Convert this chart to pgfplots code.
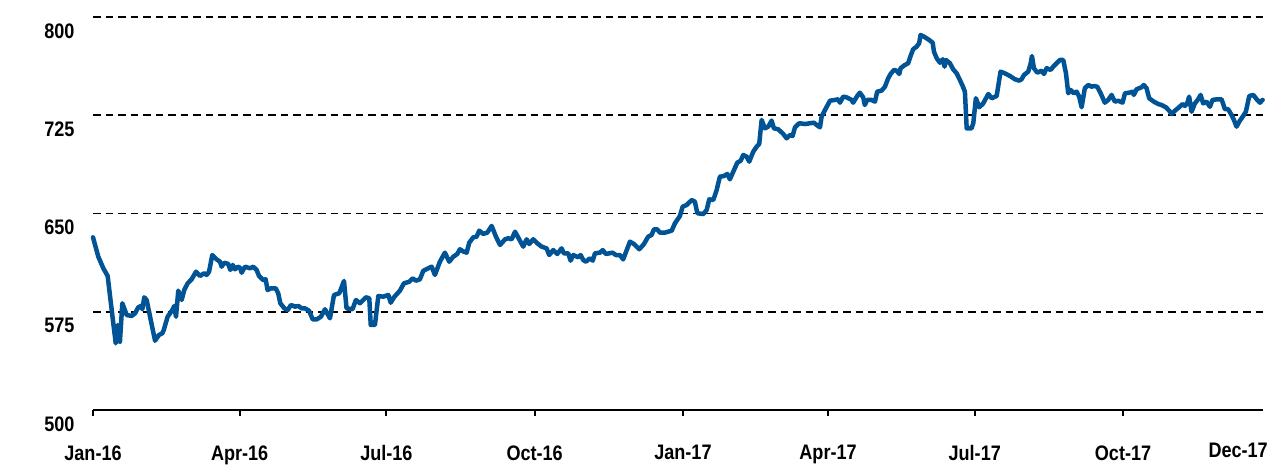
\documentclass[border=0pt]{standalone}
\usepackage{pgfplots}
\pgfplotsset{compat=1.18}
\usepackage{fontspec}
\setmainfont{Liberation Sans}[FakeStretch=0.86]
\definecolor{lineblue}{RGB}{0,83,148}
\begin{document}
\begin{tikzpicture}
\useasboundingbox (0,0) rectangle (1273pt,466pt);
\begin{axis}[
  at={(93pt,56pt)}, anchor=south west,
  scale only axis, width=1170pt, height=393pt,
  xmin=0, xmax=725.8, ymin=500, ymax=800,
  axis x line*=bottom, axis y line*=left,
  y axis line style={draw=none},
  x axis line style={line width=2.8pt},
  xtick={0,91,182,274,366,456,547,639},
  xticklabels={Jan-16,Apr-16,Jul-16,Oct-16,Jan-17,Apr-17,Jul-17,Oct-17},
  ytick={500,575,650,725,800},
  yticklabels={500,575,650,725,800},
  xtick align=outside,
  major tick length=6pt,
  x tick style={line width=1.8pt, black},
  y tick style={draw=none},
  ymajorgrids,
  major grid style={black, line width=1.8pt, dash pattern=on 7.5pt off 5pt},
  tick label style={font=\bfseries\fontsize{21pt}{23pt}\selectfont, black},
  /pgf/number format/assume math mode=true,
  xticklabel style={yshift=-26pt},
  yticklabel style={xshift=-15pt, yshift=-14pt},
  clip=false,
]
\addplot[lineblue, line width=4.5pt, line join=round, line cap=round] coordinates {
(0,631.8) (3.3,617.0) (6.4,608.2) (9.1,602.3) (11.6,576.3) (14.1,550.9) (15.3,564.9) (16.7,552.1) (18.2,581.5) (20.9,572.5)
(24.0,571.8) (26.1,573.8) (28.1,578.4) (29.8,579.4) (30.6,576.9) (31.8,586.0) (33.3,584.0) (35.4,571.2) (38.5,552.9) (40.9,557.3)
(43.0,558.6) (43.9,561.1) (46.3,571.2) (49.2,576.3) (50.4,579.4) (51.5,571.2) (52.9,591.1) (55.0,584.0) (56.6,591.6) (58.7,596.7)
(61.2,599.8) (63.9,605.6) (66.4,602.3) (69.0,604.4) (70.5,603.1) (72.0,605.6) (74.0,618.3) (76.7,615.0) (78.8,613.2) (79.8,609.4)
(81.4,612.4) (83.9,611.5) (85.2,606.9) (86.7,610.7) (88.1,607.4) (89.8,609.4) (91.2,608.6) (92.2,604.8) (94.3,609.4) (97.4,608.2)
(99.4,609.4) (101.5,606.9) (103.0,602.3) (105.6,599.2) (107.1,599.8) (108.3,591.6) (110.4,592.9) (113.3,592.9) (114.9,589.1) (116.2,581.5)
(118.7,577.6) (120.8,576.3) (122.8,580.2) (125.3,578.9) (127.4,579.4) (129.5,577.6) (131.5,577.6) (134.0,575.8) (136.3,569.2) (138.8,569.2)
(141.4,571.2) (143.9,576.9) (147.0,570.0) (149.5,587.8) (152.8,589.1) (155.7,598.5) (157.3,577.6) (161.0,576.9) (163.1,584.0) (165.6,581.5)
(169.3,586.0) (171.4,585.3) (172.3,564.9) (174.9,564.9) (177.0,587.0) (180.1,586.5) (183.2,587.8) (184.7,581.9) (186.7,586.0) (190.4,591.1)
(192.9,596.7) (196.2,597.9) (198.3,600.5) (200.4,598.7) (202.8,599.8) (204.9,606.3) (208.0,608.2) (210.1,609.4) (212.1,603.1) (215.2,613.2)
(218.3,620.1) (221.0,613.2) (223.5,617.0) (226.0,619.1) (227.6,622.7) (230.1,620.8) (231.8,620.1) (233.4,627.7) (235.9,631.8) (238.0,632.3)
(239.6,636.9) (242.1,634.4) (244.6,635.4) (247.3,640.5) (250.0,632.3) (252.5,626.0) (255.6,630.3) (257.6,631.1) (259.7,630.3) (261.8,636.1)
(264.4,630.3) (266.9,624.7) (269.0,630.3) (270.6,626.7) (273.1,630.3) (275.6,627.3) (278.3,624.7) (281.4,623.4) (283.0,618.3) (285.5,622.1)
(288.0,619.1) (290.7,623.4) (292.1,619.6) (294.8,619.6) (296.3,614.0) (297.9,618.3) (301.0,616.6) (302.5,618.3) (304.1,614.5) (305.8,613.2)
(308.3,615.8) (310.0,614.0) (311.4,619.6) (314.5,620.1) (316.2,622.1) (318.2,619.1) (320.3,619.6) (322.3,620.1) (324.4,618.3) (326.9,618.3)
(328.9,615.0) (333.1,628.5) (335.6,626.7) (338.9,622.7) (341.8,626.7) (344.4,632.3) (346.5,633.6) (348.0,637.9) (350.0,637.9) (351.7,635.4)
(354.8,635.4) (359.0,636.9) (361.0,642.5) (364.1,648.1) (365.8,655.2) (368.3,656.5) (371.4,660.3) (373.4,659.0) (374.9,650.2) (378.6,649.6)
(380.7,652.7) (382.3,660.8) (384.8,660.3) (386.9,668.0) (388.9,678.1) (391.4,678.6) (393.5,680.2) (395.1,676.1) (397.2,681.9) (399.7,688.8)
(401.8,690.3) (403.4,694.7) (405.5,693.4) (407.1,689.6) (409.6,697.2) (411.7,701.0) (413.3,703.1) (414.8,721.4) (416.8,715.0) (418.9,716.3)
(421.0,720.9) (422.4,715.0) (425.1,714.3) (428.2,710.7) (430.3,707.4) (432.4,709.9) (434.0,709.2) (435.5,715.8) (438.1,718.9) (441.7,718.3)
(444.8,718.9) (447.2,719.3) (448.9,717.6) (451.0,715.8) (452.0,723.9) (454.1,729.0) (457.2,736.1) (460.3,736.7) (462.3,737.2) (463.4,734.6)
(465.4,739.2) (467.5,738.7) (470.6,736.7) (471.6,734.6) (474.1,739.7) (475.7,742.2) (477.8,738.7) (478.8,732.8) (480.3,736.7) (483.0,736.7)
(485.1,735.4) (486.5,743.0) (489.2,743.8) (491.3,746.8) (493.3,753.2) (494.8,756.5) (496.9,759.6) (498.5,759.0) (500.2,756.5) (501.0,760.9)
(503.7,763.4) (505.7,764.7) (507.2,770.2) (508.8,775.4) (510.9,777.3) (512.5,779.9) (513.4,786.3) (515.5,785.0) (518.1,783.0) (520.9,780.4)
(521.7,773.5) (523.4,768.5) (525.4,765.1) (527.1,767.7) (528.3,762.1) (529.1,767.2) (531.6,764.7) (533.6,760.1) (535.8,757.0) (537.8,751.9)
(539.5,747.3) (540.9,743.0) (542.0,715.0) (545.0,715.0) (546.1,718.9) (547.7,738.0) (549.8,731.1) (552.3,734.1) (555.4,741.2) (557.5,738.0)
(560.6,739.7) (563.0,758.3) (565.7,757.0) (568.8,755.0) (571.9,752.5) (574.6,751.4) (576.1,752.5) (577.5,755.7) (580.2,758.3) (581.7,764.7)
(582.5,770.2) (583.7,760.9) (585.8,757.5) (588.5,759.0) (589.9,756.5) (591.6,760.9) (594.1,759.6) (595.7,762.1) (597.8,764.7) (599.8,767.2)
(601.9,767.2) (603.6,757.0) (605.0,741.8) (606.5,744.3) (608.5,741.8) (610.2,743.0) (611.8,739.2) (613.3,731.1) (615.3,745.6) (617.4,748.1)
(619.5,746.8) (620.9,747.3) (623.0,746.8) (625.1,741.8) (627.7,734.6) (629.8,736.7) (631.9,740.5) (633.9,735.4) (636.0,736.1) (638.7,734.6)
(640.2,741.8) (642.8,742.2) (644.9,743.0) (645.7,740.5) (647.4,744.8) (650.5,746.4) (651.9,748.1) (653.6,745.6) (655.2,738.0) (658.1,735.4)
(660.8,733.6) (662.9,732.8) (665.6,731.1) (667.6,728.5) (669.1,726.0) (671.2,728.5) (673.8,731.1) (675.9,733.6) (677.4,732.1) (678.8,734.1)
(680.0,739.2) (681.5,727.7) (683.6,734.1) (685.6,737.2) (687.1,740.5) (688.7,734.1) (690.8,735.4) (692.9,731.5) (694.5,736.7) (697.4,737.2)
(700.1,737.2) (702.2,729.6) (704.2,729.6) (706.3,725.2) (707.8,721.4) (709.4,716.3) (711.5,720.9) (713.5,724.4) (715.2,727.7) (717.3,739.7)
(719.8,740.5) (721.9,737.2) (723.9,734.6) (725.6,736.7)
};
\node[anchor=north east, inner sep=0pt, font=\bfseries\fontsize{21pt}{23pt}\selectfont] at (rel axis cs:1,0) [xshift=5pt, yshift=-33pt] {Dec-17};
\end{axis}
\end{tikzpicture}
\end{document}
